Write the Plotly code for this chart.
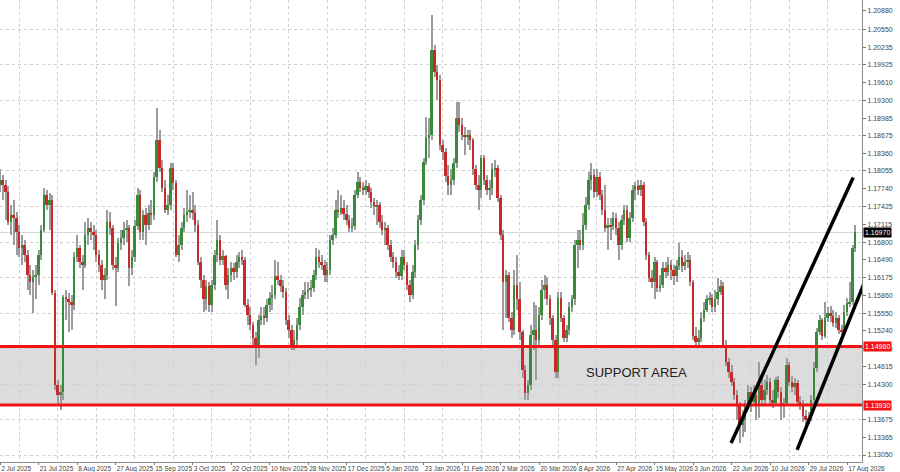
import numpy as np
import plotly.graph_objects as go

DATE_LABELS = ["2 Jul 2025", "21 Jul 2025", "8 Aug 2025", "27 Aug 2025", "15 Sep 2025", "3 Oct 2025",
               "22 Oct 2025", "10 Nov 2025", "28 Nov 2025", "17 Dec 2025", "5 Jan 2026", "23 Jan 2026",
               "11 Feb 2026", "2 Mar 2026", "20 Mar 2026", "8 Apr 2026", "27 Apr 2026", "15 May 2026",
               "3 Jun 2026", "22 Jun 2026", "10 Jul 2026", "29 Jul 2026", "17 Aug 2026"]

OPEN = [1.1781, 1.1790, 1.1781, 1.1768, 1.1715, 1.1728, 1.1723, 1.1698, 1.1670, 1.1675,
        1.1658, 1.1622, 1.1609, 1.1619, 1.1622, 1.1658, 1.1702, 1.1763, 1.1746, 1.1755,
        1.1591, 1.1429, 1.1411, 1.1416, 1.1584, 1.1579, 1.1575, 1.1570, 1.1653, 1.1670,
        1.1645, 1.1640, 1.1693, 1.1705, 1.1698, 1.1693, 1.1658, 1.1640, 1.1614, 1.1622,
        1.1715, 1.1705, 1.1640, 1.1635, 1.1679, 1.1688, 1.1702, 1.1705, 1.1635, 1.1653,
        1.1708, 1.1763, 1.1698, 1.1728, 1.1710, 1.1732, 1.1728, 1.1794, 1.1860, 1.1811,
        1.1776, 1.1737, 1.1746, 1.1811, 1.1785, 1.1658, 1.1675, 1.1705, 1.1728, 1.1733,
        1.1737, 1.1732, 1.1710, 1.1645, 1.1614, 1.1579, 1.1602, 1.1570, 1.1605, 1.1658,
        1.1684, 1.1649, 1.1655, 1.1605, 1.1622, 1.1635, 1.1627, 1.1645, 1.1653, 1.1649,
        1.1570, 1.1552, 1.1534, 1.1512, 1.1494, 1.1543, 1.1550, 1.1547, 1.1570, 1.1582,
        1.1587, 1.1620, 1.1614, 1.1602, 1.1592, 1.1543, 1.1526, 1.1499, 1.1508, 1.1534,
        1.1565, 1.1587, 1.1592, 1.1596, 1.1600, 1.1622, 1.1653, 1.1645, 1.1640, 1.1622,
        1.1631, 1.1684, 1.1693, 1.1737, 1.1733, 1.1741, 1.1730, 1.1719, 1.1705, 1.1708,
        1.1763, 1.1786, 1.1776, 1.1772, 1.1778, 1.1768, 1.1750, 1.1743, 1.1746, 1.1715,
        1.1702, 1.1705, 1.1675, 1.1653, 1.1645, 1.1627, 1.1620, 1.1653, 1.1640, 1.1605,
        1.1587, 1.1627, 1.1675, 1.1719, 1.1755, 1.1821, 1.1864, 1.1869, 1.2019, 1.1980,
        1.1966, 1.1851, 1.1839, 1.1797, 1.1781, 1.1790, 1.1820, 1.1899, 1.1887, 1.1869,
        1.1866, 1.1869, 1.1860, 1.1808, 1.1781, 1.1772, 1.1829, 1.1790, 1.1772, 1.1776,
        1.1808, 1.1811, 1.1758, 1.1693, 1.1610, 1.1622, 1.1547, 1.1526, 1.1605, 1.1579,
        1.1522, 1.1455, 1.1415, 1.1429, 1.1517, 1.1526, 1.1508, 1.1552, 1.1596, 1.1605,
        1.1579, 1.1547, 1.1508, 1.1451, 1.1582, 1.1547, 1.1512, 1.1526, 1.1565, 1.1579,
        1.1675, 1.1684, 1.1675, 1.1710, 1.1746, 1.1790, 1.1799, 1.1768, 1.1794, 1.1763,
        1.1737, 1.1705, 1.1710, 1.1708, 1.1723, 1.1705, 1.1675, 1.1719, 1.1737, 1.1688,
        1.1723, 1.1772, 1.1779, 1.1772, 1.1781, 1.1715, 1.1658, 1.1617, 1.1610, 1.1645,
        1.1600, 1.1605, 1.1635, 1.1627, 1.1640, 1.1631, 1.1620, 1.1638, 1.1653, 1.1638,
        1.1645, 1.1649, 1.1610, 1.1515, 1.1504, 1.1512, 1.1547, 1.1561, 1.1579, 1.1582,
        1.1565, 1.1579, 1.1592, 1.1603, 1.1499, 1.1469, 1.1451, 1.1434, 1.1411, 1.1393,
        1.1358, 1.1367, 1.1393, 1.1416, 1.1398, 1.1411, 1.1393, 1.1429, 1.1402, 1.1420,
        1.1434, 1.1402, 1.1397, 1.1438, 1.1416, 1.1393, 1.1397, 1.1464, 1.1434, 1.1424,
        1.1431, 1.1398, 1.1393, 1.1374, 1.1367, 1.1371, 1.1402, 1.1459, 1.1522, 1.1543,
        1.1515, 1.1547, 1.1556, 1.1550, 1.1538, 1.1547, 1.1526, 1.1522, 1.1557, 1.1572,
        1.1575, 1.1670]

HIGH = [1.1808, 1.1799, 1.1790, 1.1778, 1.1746, 1.1755, 1.1733, 1.1710, 1.1693, 1.1684,
        1.1667, 1.1640, 1.1631, 1.1640, 1.1667, 1.1710, 1.1776, 1.1772, 1.1767, 1.1763,
        1.1596, 1.1438, 1.1429, 1.1587, 1.1596, 1.1591, 1.1587, 1.1662, 1.1693, 1.1675,
        1.1658, 1.1715, 1.1723, 1.1715, 1.1710, 1.1702, 1.1667, 1.1649, 1.1635, 1.1737,
        1.1733, 1.1710, 1.1653, 1.1688, 1.1702, 1.1715, 1.1719, 1.1710, 1.1667, 1.1719,
        1.1776, 1.1772, 1.1737, 1.1741, 1.1746, 1.1755, 1.1804, 1.1917, 1.1878, 1.1825,
        1.1790, 1.1763, 1.1820, 1.1820, 1.1790, 1.1693, 1.1715, 1.1741, 1.1772, 1.1763,
        1.1768, 1.1746, 1.1719, 1.1653, 1.1622, 1.1614, 1.1610, 1.1614, 1.1667, 1.1719,
        1.1693, 1.1667, 1.1658, 1.1635, 1.1645, 1.1644, 1.1658, 1.1663, 1.1667, 1.1653,
        1.1579, 1.1565, 1.1539, 1.1521, 1.1552, 1.1565, 1.1565, 1.1579, 1.1592, 1.1605,
        1.1649, 1.1645, 1.1622, 1.1614, 1.1600, 1.1552, 1.1534, 1.1526, 1.1547, 1.1582,
        1.1596, 1.1609, 1.1610, 1.1614, 1.1631, 1.1670, 1.1667, 1.1658, 1.1649, 1.1645,
        1.1693, 1.1705, 1.1755, 1.1772, 1.1763, 1.1755, 1.1746, 1.1728, 1.1723, 1.1772,
        1.1803, 1.1794, 1.1786, 1.1790, 1.1785, 1.1776, 1.1758, 1.1755, 1.1751, 1.1728,
        1.1715, 1.1710, 1.1684, 1.1663, 1.1653, 1.1640, 1.1667, 1.1667, 1.1645, 1.1614,
        1.1640, 1.1684, 1.1728, 1.1763, 1.1829, 1.1901, 1.1899, 1.2080, 1.2028, 1.1992,
        1.1975, 1.1860, 1.1846, 1.1816, 1.1808, 1.1829, 1.1926, 1.1926, 1.1899, 1.1882,
        1.1878, 1.1878, 1.1864, 1.1816, 1.1799, 1.1834, 1.1834, 1.1799, 1.1790, 1.1820,
        1.1825, 1.1816, 1.1763, 1.1702, 1.1631, 1.1627, 1.1557, 1.1631, 1.1658, 1.1610,
        1.1526, 1.1464, 1.1438, 1.1534, 1.1575, 1.1570, 1.1565, 1.1614, 1.1622, 1.1619,
        1.1587, 1.1552, 1.1517, 1.1592, 1.1592, 1.1552, 1.1534, 1.1574, 1.1587, 1.1684,
        1.1702, 1.1702, 1.1732, 1.1760, 1.1804, 1.1820, 1.1808, 1.1808, 1.1804, 1.1772,
        1.1781, 1.1723, 1.1723, 1.1733, 1.1732, 1.1715, 1.1728, 1.1746, 1.1746, 1.1733,
        1.1781, 1.1786, 1.1790, 1.1790, 1.1786, 1.1723, 1.1663, 1.1631, 1.1653, 1.1649,
        1.1622, 1.1645, 1.1645, 1.1653, 1.1649, 1.1640, 1.1649, 1.1679, 1.1667, 1.1658,
        1.1663, 1.1658, 1.1614, 1.1530, 1.1526, 1.1557, 1.1575, 1.1587, 1.1592, 1.1589,
        1.1596, 1.1617, 1.1614, 1.1609, 1.1508, 1.1476, 1.1464, 1.1441, 1.1420, 1.1398,
        1.1385, 1.1402, 1.1429, 1.1424, 1.1429, 1.1420, 1.1468, 1.1441, 1.1438, 1.1446,
        1.1441, 1.1420, 1.1443, 1.1445, 1.1424, 1.1406, 1.1476, 1.1469, 1.1445, 1.1441,
        1.1438, 1.1409, 1.1402, 1.1385, 1.1381, 1.1411, 1.1469, 1.1529, 1.1552, 1.1547,
        1.1574, 1.1565, 1.1568, 1.1561, 1.1557, 1.1552, 1.1534, 1.1570, 1.1582, 1.1609,
        1.1675, 1.1710]

LOW = [1.1768, 1.1755, 1.1719, 1.1710, 1.1693, 1.1675, 1.1658, 1.1653, 1.1640, 1.1645,
       1.1596, 1.1587, 1.1556, 1.1579, 1.1605, 1.1649, 1.1698, 1.1737, 1.1702, 1.1587,
       1.1420, 1.1393, 1.1385, 1.1402, 1.1543, 1.1521, 1.1526, 1.1561, 1.1645, 1.1635,
       1.1596, 1.1635, 1.1675, 1.1684, 1.1667, 1.1645, 1.1627, 1.1596, 1.1579, 1.1614,
       1.1693, 1.1631, 1.1567, 1.1627, 1.1667, 1.1675, 1.1680, 1.1602, 1.1622, 1.1645,
       1.1702, 1.1684, 1.1684, 1.1675, 1.1702, 1.1710, 1.1719, 1.1786, 1.1804, 1.1768,
       1.1732, 1.1728, 1.1737, 1.1772, 1.1653, 1.1645, 1.1667, 1.1698, 1.1715, 1.1723,
       1.1719, 1.1698, 1.1640, 1.1600, 1.1557, 1.1561, 1.1557, 1.1557, 1.1596, 1.1645,
       1.1640, 1.1640, 1.1596, 1.1579, 1.1610, 1.1614, 1.1617, 1.1635, 1.1640, 1.1565,
       1.1534, 1.1526, 1.1499, 1.1464, 1.1476, 1.1534, 1.1534, 1.1539, 1.1557, 1.1561,
       1.1579, 1.1605, 1.1592, 1.1582, 1.1534, 1.1512, 1.1490, 1.1490, 1.1499, 1.1526,
       1.1552, 1.1579, 1.1579, 1.1584, 1.1592, 1.1614, 1.1635, 1.1631, 1.1609, 1.1610,
       1.1622, 1.1675, 1.1688, 1.1723, 1.1728, 1.1719, 1.1710, 1.1698, 1.1698, 1.1702,
       1.1758, 1.1768, 1.1763, 1.1763, 1.1758, 1.1741, 1.1728, 1.1710, 1.1705, 1.1693,
       1.1675, 1.1667, 1.1645, 1.1635, 1.1617, 1.1614, 1.1614, 1.1631, 1.1596, 1.1574,
       1.1579, 1.1617, 1.1667, 1.1710, 1.1746, 1.1816, 1.1829, 1.1860, 1.1970, 1.1931,
       1.1843, 1.1825, 1.1786, 1.1763, 1.1763, 1.1781, 1.1811, 1.1874, 1.1860, 1.1834,
       1.1851, 1.1843, 1.1799, 1.1772, 1.1737, 1.1758, 1.1781, 1.1763, 1.1755, 1.1763,
       1.1794, 1.1751, 1.1684, 1.1526, 1.1547, 1.1539, 1.1512, 1.1517, 1.1561, 1.1508,
       1.1441, 1.1402, 1.1402, 1.1420, 1.1490, 1.1438, 1.1499, 1.1543, 1.1579, 1.1570,
       1.1534, 1.1499, 1.1441, 1.1441, 1.1539, 1.1504, 1.1504, 1.1517, 1.1557, 1.1570,
       1.1635, 1.1667, 1.1667, 1.1702, 1.1737, 1.1772, 1.1758, 1.1760, 1.1755, 1.1728,
       1.1698, 1.1667, 1.1684, 1.1702, 1.1693, 1.1649, 1.1667, 1.1710, 1.1680, 1.1680,
       1.1715, 1.1755, 1.1763, 1.1761, 1.1708, 1.1649, 1.1610, 1.1600, 1.1579, 1.1592,
       1.1592, 1.1600, 1.1617, 1.1620, 1.1614, 1.1605, 1.1610, 1.1631, 1.1627, 1.1631,
       1.1635, 1.1602, 1.1508, 1.1494, 1.1499, 1.1504, 1.1539, 1.1557, 1.1570, 1.1557,
       1.1557, 1.1570, 1.1587, 1.1494, 1.1462, 1.1441, 1.1427, 1.1402, 1.1367, 1.1327,
       1.1336, 1.1346, 1.1385, 1.1381, 1.1393, 1.1367, 1.1371, 1.1393, 1.1395, 1.1411,
       1.1393, 1.1388, 1.1391, 1.1406, 1.1367, 1.1371, 1.1391, 1.1427, 1.1416, 1.1411,
       1.1391, 1.1385, 1.1363, 1.1358, 1.1360, 1.1365, 1.1397, 1.1451, 1.1517, 1.1508,
       1.1512, 1.1539, 1.1539, 1.1531, 1.1529, 1.1519, 1.1515, 1.1517, 1.1550, 1.1565,
       1.1570, 1.1663]

CLOSE = [1.1790, 1.1781, 1.1768, 1.1715, 1.1728, 1.1723, 1.1698, 1.1670, 1.1675, 1.1658,
         1.1622, 1.1609, 1.1619, 1.1622, 1.1658, 1.1702, 1.1763, 1.1746, 1.1755, 1.1591,
         1.1429, 1.1411, 1.1416, 1.1584, 1.1579, 1.1575, 1.1570, 1.1653, 1.1670, 1.1645,
         1.1640, 1.1693, 1.1705, 1.1698, 1.1693, 1.1658, 1.1640, 1.1614, 1.1622, 1.1715,
         1.1705, 1.1640, 1.1635, 1.1679, 1.1688, 1.1702, 1.1705, 1.1635, 1.1653, 1.1708,
         1.1763, 1.1698, 1.1728, 1.1710, 1.1732, 1.1728, 1.1794, 1.1860, 1.1811, 1.1776,
         1.1737, 1.1746, 1.1811, 1.1785, 1.1658, 1.1675, 1.1705, 1.1728, 1.1733, 1.1737,
         1.1732, 1.1710, 1.1645, 1.1614, 1.1579, 1.1602, 1.1570, 1.1605, 1.1658, 1.1684,
         1.1649, 1.1655, 1.1605, 1.1622, 1.1635, 1.1627, 1.1645, 1.1653, 1.1649, 1.1570,
         1.1552, 1.1534, 1.1512, 1.1494, 1.1543, 1.1550, 1.1547, 1.1570, 1.1582, 1.1587,
         1.1620, 1.1614, 1.1602, 1.1592, 1.1543, 1.1526, 1.1499, 1.1508, 1.1534, 1.1565,
         1.1587, 1.1592, 1.1596, 1.1600, 1.1622, 1.1653, 1.1645, 1.1640, 1.1622, 1.1631,
         1.1684, 1.1693, 1.1737, 1.1733, 1.1741, 1.1730, 1.1719, 1.1705, 1.1708, 1.1763,
         1.1786, 1.1776, 1.1772, 1.1778, 1.1768, 1.1750, 1.1743, 1.1746, 1.1715, 1.1702,
         1.1705, 1.1675, 1.1653, 1.1645, 1.1627, 1.1620, 1.1653, 1.1640, 1.1605, 1.1587,
         1.1627, 1.1675, 1.1719, 1.1755, 1.1821, 1.1864, 1.1869, 1.2019, 1.1980, 1.1966,
         1.1851, 1.1839, 1.1797, 1.1781, 1.1790, 1.1820, 1.1899, 1.1887, 1.1869, 1.1866,
         1.1869, 1.1860, 1.1808, 1.1781, 1.1772, 1.1829, 1.1790, 1.1772, 1.1776, 1.1808,
         1.1811, 1.1758, 1.1693, 1.1610, 1.1622, 1.1547, 1.1526, 1.1605, 1.1579, 1.1522,
         1.1455, 1.1415, 1.1429, 1.1517, 1.1526, 1.1508, 1.1552, 1.1596, 1.1605, 1.1579,
         1.1547, 1.1508, 1.1451, 1.1582, 1.1547, 1.1512, 1.1526, 1.1565, 1.1579, 1.1675,
         1.1684, 1.1675, 1.1710, 1.1746, 1.1790, 1.1799, 1.1768, 1.1794, 1.1763, 1.1737,
         1.1705, 1.1710, 1.1708, 1.1723, 1.1705, 1.1675, 1.1719, 1.1737, 1.1688, 1.1723,
         1.1772, 1.1779, 1.1772, 1.1781, 1.1715, 1.1658, 1.1617, 1.1610, 1.1645, 1.1600,
         1.1605, 1.1635, 1.1627, 1.1640, 1.1631, 1.1620, 1.1638, 1.1653, 1.1638, 1.1645,
         1.1649, 1.1610, 1.1515, 1.1504, 1.1512, 1.1547, 1.1561, 1.1579, 1.1582, 1.1565,
         1.1579, 1.1592, 1.1603, 1.1499, 1.1469, 1.1451, 1.1434, 1.1411, 1.1393, 1.1358,
         1.1367, 1.1393, 1.1416, 1.1398, 1.1411, 1.1393, 1.1429, 1.1402, 1.1420, 1.1434,
         1.1402, 1.1397, 1.1438, 1.1416, 1.1393, 1.1397, 1.1464, 1.1434, 1.1424, 1.1431,
         1.1398, 1.1393, 1.1374, 1.1367, 1.1371, 1.1402, 1.1459, 1.1522, 1.1543, 1.1515,
         1.1547, 1.1556, 1.1550, 1.1538, 1.1547, 1.1526, 1.1522, 1.1557, 1.1572, 1.1575,
         1.1670, 1.1697]

Y_TICK_LABELS = ["1.13050", "1.13365", "1.13675", "1.14300", "1.14615", "1.14925", "1.15240",
                 "1.15550", "1.15860", "1.16175", "1.16490", "1.16800", "1.17115", "1.17425",
                 "1.17740", "1.18055", "1.18360", "1.18675", "1.18985", "1.19300", "1.19610",
                 "1.19925", "1.20235", "1.20550", "1.20880"]
Y_GRID_LEVELS = [1.13050, 1.13675, 1.14300, 1.14925, 1.15550, 1.16175, 1.16800, 1.17425,
                 1.18055, 1.18675, 1.19300, 1.19925, 1.20550]

SUPPORT_TOP = 1.1496
SUPPORT_BOTTOM = 1.1393
SUPPORT_TEXT = "SUPPORT AREA"
SUPPORT_TEXT_POS = (231.3, 1.1450)

TREND_UPPER_X = [265.8, 310.2]
TREND_UPPER_Y = [1.1326, 1.1794]
TREND_LOWER_X = [289.8, 316.7]
TREND_LOWER_Y = [1.1314, 1.1638]

GREEN = "#3a8a3a"
RED = "#c62a2a"
WICK = "#9c9c9c"
FONT = "Liberation Sans"

o = np.array(OPEN)
h = np.array(HIGH)
l = np.array(LOW)
c = np.array(CLOSE)
n = len(c)
idx = np.arange(n)

body_base = np.minimum(o, c)
body_h = np.maximum(np.abs(c - o), 0.00005)
body_col = np.where(c >= o, GREEN, RED)

fig = go.Figure()
fig.add_trace(go.Bar(x=idx, base=l, y=h - l, width=0.42,
                     marker=dict(color=WICK, line=dict(width=0)), hoverinfo="skip"))
fig.add_trace(go.Bar(x=idx, base=body_base, y=body_h, width=0.72,
                     marker=dict(color=body_col, line=dict(width=0)), hoverinfo="skip"))

shapes = [
    dict(type="rect", xref="x domain", yref="y", x0=0, x1=1, y0=SUPPORT_BOTTOM, y1=SUPPORT_TOP,
         fillcolor="#dcdcdc", line=dict(width=0), layer="below"),
    dict(type="line", xref="x domain", yref="y", x0=0, x1=1, y0=c[-1], y1=c[-1],
         line=dict(color="#d6d6d6", width=1), layer="below"),
    dict(type="line", xref="x domain", yref="y", x0=0, x1=1, y0=SUPPORT_TOP, y1=SUPPORT_TOP,
         line=dict(color="#f21414", width=3), layer="above"),
    dict(type="line", xref="x domain", yref="y", x0=0, x1=1, y0=SUPPORT_BOTTOM, y1=SUPPORT_BOTTOM,
         line=dict(color="#f21414", width=3), layer="above"),
    dict(type="line", xref="x", yref="y", x0=TREND_UPPER_X[0], x1=TREND_UPPER_X[1],
         y0=TREND_UPPER_Y[0], y1=TREND_UPPER_Y[1], line=dict(color="black", width=3.5), layer="above"),
    dict(type="line", xref="x", yref="y", x0=TREND_LOWER_X[0], x1=TREND_LOWER_X[1],
         y0=TREND_LOWER_Y[0], y1=TREND_LOWER_Y[1], line=dict(color="black", width=3.5), layer="above"),
]

annotations = [
    dict(x=SUPPORT_TEXT_POS[0], y=SUPPORT_TEXT_POS[1], xref="x", yref="y", text=SUPPORT_TEXT,
         showarrow=False, font=dict(family=FONT, size=13, color="#222222")),
]
for val, bg in [(SUPPORT_TOP, "#f21414"), (SUPPORT_BOTTOM, "#f21414"), (c[-1], "#000000")]:
    annotations.append(dict(x=1, xref="paper", y=val, yref="y", xanchor="left", xshift=1,
                            text=f"{val:.5f}", showarrow=False, bgcolor=bg, borderpad=1,
                            font=dict(family=FONT, size=7, color="white")))

label_bars = [14 * k for k in range(len(DATE_LABELS))]
grid_bars = [7 + 14 * k for k in range(len(DATE_LABELS))]

fig.update_layout(
    width=900, height=472,
    margin=dict(l=0, r=38, t=0, b=10),
    paper_bgcolor="white", plot_bgcolor="white",
    showlegend=False, barmode="overlay", bargap=0,
    shapes=shapes, annotations=annotations,
)
fig.update_xaxes(
    range=[-0.05, 313.4], tickmode="array", tickvals=label_bars, ticktext=DATE_LABELS,
    ticklabelposition="outside right", tickangle=0, ticks="outside", ticklen=2, tickcolor="#777",
    tickfont=dict(family=FONT, size=6.5, color="#444"), showgrid=False,
    minor=dict(tickmode="array", tickvals=grid_bars, showgrid=True, griddash="dot",
               gridcolor="#cfcfcf", gridwidth=1, ticks=""),
    showline=True, linecolor="#8a8a8a", linewidth=1, zeroline=False, fixedrange=True,
)
fig.update_yaxes(
    side="right", range=[1.12927, 1.21065], tickmode="array",
    tickvals=[float(t) for t in Y_TICK_LABELS], ticktext=Y_TICK_LABELS,
    ticks="outside", ticklen=3, tickcolor="#777",
    tickfont=dict(family=FONT, size=7, color="#444"), showgrid=False,
    minor=dict(tickmode="array", tickvals=Y_GRID_LEVELS, showgrid=True, griddash="dot",
               gridcolor="#cfcfcf", gridwidth=1, ticks=""),
    showline=True, linecolor="#8a8a8a", linewidth=1, zeroline=False, fixedrange=True,
)

fig.write_html("out.html", config={"displayModeBar": False},
               post_script="document.body.style.margin='0px';")
